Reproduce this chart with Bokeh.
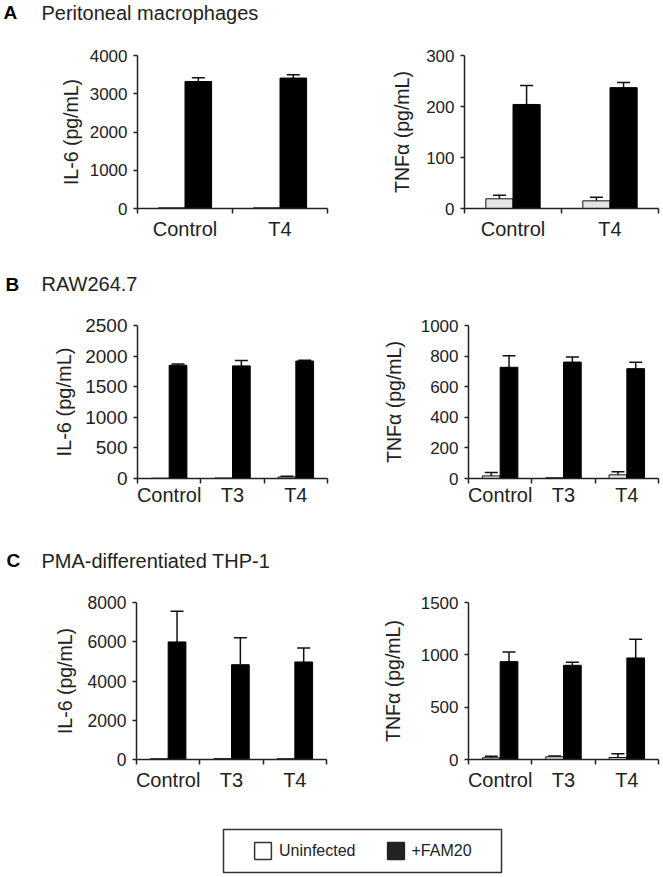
from bokeh.plotting import figure
from bokeh.layouts import column, row
from bokeh.models import (Range1d, FixedTicker, Whisker, TeeHead, ColumnDataSource,
                          Label, Legend, LegendItem)
from bokeh.embed import file_html
from bokeh.resources import INLINE

# ---------------- data ----------------
cats_A = ["Control", "T4"]
cats_BC = ["Control", "T3", "T4"]

A_il6_uninf = [18, 18]
A_il6_uninf_err = [0, 0]
A_il6_fam = [3320, 3410]
A_il6_fam_err = [100, 90]
A_il6_ticks = [0, 1000, 2000, 3000, 4000]

A_tnf_uninf = [19, 15]
A_tnf_uninf_err = [7, 7]
A_tnf_fam = [204, 237]
A_tnf_fam_err = [37, 10]
A_tnf_ticks = [0, 100, 200, 300]

B_il6_uninf = [5, 8, 25]
B_il6_uninf_err = [0, 0, 12]
B_il6_fam = [1850, 1840, 1920]
B_il6_fam_err = [20, 90, 12]
B_il6_ticks = [0, 500, 1000, 1500, 2000, 2500]

B_tnf_uninf = [17, 5, 24]
B_tnf_uninf_err = [22, 0, 20]
B_tnf_fam = [727, 761, 718]
B_tnf_fam_err = [75, 33, 41]
B_tnf_ticks = [0, 200, 400, 600, 800, 1000]

C_il6_uninf = [40, 45, 40]
C_il6_uninf_err = [0, 0, 0]
C_il6_fam = [5990, 4830, 4970]
C_il6_fam_err = [1570, 1380, 715]
C_il6_ticks = [0, 2000, 4000, 6000, 8000]

C_tnf_uninf = [16, 26, 19]
C_tnf_uninf_err = [16, 8, 35]
C_tnf_fam = [935, 900, 970]
C_tnf_fam_err = [93, 28, 180]
C_tnf_ticks = [0, 500, 1000, 1500]

series_names = ["Uninfected", "+FAM20"]
section_letters = ["A", "B", "C"]
section_titles = ["Peritoneal macrophages", "RAW264.7", "PMA-differentiated THP-1"]
il6_label = "IL-6 (pg/mL)"
tnf_label = "TNFα (pg/mL)"

FONT = "Liberation Sans"
TXT = "#222222"
AX = "#222222"
UNINF_FILL = "#e4e4e4"
FAM_FILL = "#000000"
BAR_W = 0.28
LEFT_W = 330
RIGHT_W = 332


def panel(cats, uninf, uninf_err, fam, fam_err, ticks, ylabel, width, height,
          bl, br, bt, bb, tick_fs, lab_fs, lab_standoff, x_standoff):
    n = len(cats)
    p = figure(width=width, height=height, output_backend="svg", toolbar_location=None,
               x_range=Range1d(0, n), y_range=Range1d(ticks[0], ticks[-1]),
               min_border_left=bl, min_border_right=br, min_border_top=bt,
               min_border_bottom=bb, title=None)
    p.outline_line_color = None
    p.grid.visible = False
    p.background_fill_color = "white"

    centers = [i + 0.5 for i in range(n)]
    xu = [c - BAR_W / 2 for c in centers]
    xf = [c + BAR_W / 2 for c in centers]

    p.vbar(x=xu, top=uninf, bottom=0, width=BAR_W, fill_color=UNINF_FILL,
           line_color="#111111", line_width=1)
    p.vbar(x=xf, top=fam, bottom=0, width=BAR_W, fill_color=FAM_FILL,
           line_color="#000000", line_width=1)

    bx, lo, hi = [], [], []
    for xs, vals, errs in ((xu, uninf, uninf_err), (xf, fam, fam_err)):
        for x, v, e in zip(xs, vals, errs):
            if e > 0:
                bx.append(x)
                lo.append(v)
                hi.append(v + e)
    src = ColumnDataSource(dict(base=bx, lower=lo, upper=hi))
    w = Whisker(source=src, base="base", lower="lower", upper="upper",
                line_color="#111111", line_width=1.5, lower_head=None,
                upper_head=TeeHead(size=13, line_color="#111111", line_width=1.5))
    p.add_layout(w)

    xa = p.xaxis[0]
    xa.ticker = FixedTicker(ticks=centers, minor_ticks=list(range(n + 1)))
    xa.major_label_overrides = {c: cat for c, cat in zip(centers, cats)}
    xa.major_tick_line_color = None
    xa.major_tick_out = 0
    xa.major_tick_in = 0
    xa.minor_tick_out = 5
    xa.minor_tick_in = 0
    xa.minor_tick_line_color = AX
    xa.minor_tick_line_width = 1.5
    xa.axis_line_color = AX
    xa.axis_line_width = 1.5
    xa.major_label_text_font = FONT
    xa.major_label_text_font_size = "20px"
    xa.major_label_text_color = TXT
    xa.major_label_standoff = x_standoff

    ya = p.yaxis[0]
    ya.ticker = FixedTicker(ticks=ticks)
    ya.major_tick_out = 4
    ya.major_tick_in = 0
    ya.major_tick_line_color = AX
    ya.major_tick_line_width = 1.5
    ya.minor_tick_line_color = None
    ya.axis_line_color = AX
    ya.axis_line_width = 1.5
    ya.major_label_text_font = FONT
    ya.major_label_text_font_size = tick_fs
    ya.major_label_text_color = TXT
    ya.major_label_standoff = 6
    ya.axis_label = ylabel
    ya.axis_label_text_font = FONT
    ya.axis_label_text_font_size = lab_fs
    ya.axis_label_text_font_style = "normal"
    ya.axis_label_text_color = TXT
    ya.axis_label_standoff = lab_standoff
    return p


def title_fig(letter, title, height, baseline, letter_x):
    W = LEFT_W + RIGHT_W
    t = figure(width=W, height=height, output_backend="svg", toolbar_location=None,
               x_range=Range1d(0, W), y_range=Range1d(0, height),
               x_axis_type=None, y_axis_type=None, min_border=0, title=None)
    t.outline_line_color = None
    t.grid.visible = False
    t.add_layout(Label(x=letter_x, y=baseline, text=letter, text_font=FONT,
                       text_font_size="19px", text_font_style="bold",
                       text_color="#000000", text_baseline="alphabetic"))
    t.add_layout(Label(x=41, y=baseline, text=title, text_font=FONT,
                       text_font_size="20px", text_color=TXT,
                       text_baseline="alphabetic"))
    return row(t)


# Row A
tA = title_fig(section_letters[0], section_titles[0], 32, 20, 3)
pA1 = panel(cats_A, A_il6_uninf, A_il6_uninf_err, A_il6_fam, A_il6_fam_err, A_il6_ticks,
            il6_label, LEFT_W, 226, 137, 3, 23, 50, "17px", "19.5px", 5, 4)
pA2 = panel(cats_A, A_tnf_uninf, A_tnf_uninf_err, A_tnf_fam, A_tnf_fam_err, A_tnf_ticks,
            tnf_label, RIGHT_W, 226, 134, 4, 21, 50, "17px", "19.5px", 10, 4)

# Row B
tB = title_fig(section_letters[1], section_titles[1], 40, 14.5, 5)
pB1 = panel(cats_BC, B_il6_uninf, B_il6_uninf_err, B_il6_fam, B_il6_fam_err, B_il6_ticks,
            il6_label, LEFT_W, 235, 137, 3, 27, 54, "19px", "20px", 7, 0)
pB2 = panel(cats_BC, B_tnf_uninf, B_tnf_uninf_err, B_tnf_fam, B_tnf_fam_err, B_tnf_ticks,
            tnf_label, RIGHT_W, 235, 138, 4, 25, 55, "17px", "19.5px", 13, 0)

# Row C
tC = title_fig(section_letters[2], section_titles[2], 40, 13, 6)
pC1 = panel(cats_BC, C_il6_uninf, C_il6_uninf_err, C_il6_fam, C_il6_fam_err, C_il6_ticks,
            il6_label, LEFT_W, 246, 136, 4, 29, 60, "17.5px", "19.5px", 9, 4)
pC2 = panel(cats_BC, C_tnf_uninf, C_tnf_uninf_err, C_tnf_fam, C_tnf_fam_err, C_tnf_ticks,
            tnf_label, RIGHT_W, 246, 138, 4, 29, 60, "17px", "19.5px", 14, 4)

# Legend
pL = figure(width=LEFT_W + RIGHT_W, height=57, output_backend="svg", toolbar_location=None,
            x_range=Range1d(0, 1), y_range=Range1d(0, 1), x_axis_type=None,
            y_axis_type=None, min_border_left=223, min_border_right=161,
            min_border_top=10, min_border_bottom=4, title=None)
pL.grid.visible = False
pL.outline_line_color = "#333333"
pL.outline_line_width = 1.5
r1 = pL.vbar(x=[0], top=[0], width=0.1, fill_color="#ffffff", line_color="#333333",
             line_width=1.5, visible=False)
r2 = pL.vbar(x=[0], top=[0], width=0.1, fill_color="#222222", line_color="#222222",
             line_width=1.5, visible=False)
leg = Legend(items=[LegendItem(label=series_names[0], renderers=[r1]),
                    LegendItem(label=series_names[1], renderers=[r2])],
             location=(29, 11), orientation="horizontal", border_line_alpha=0,
             background_fill_alpha=0, glyph_width=21, glyph_height=21,
             label_standoff=6, spacing=29, padding=0, margin=0,
             inactive_fill_alpha=0,
             label_text_font=FONT, label_text_font_size="16px", label_text_color=TXT)
pL.add_layout(leg)

layout = column(tA, row(pA1, pA2), tB, row(pB1, pB2), tC, row(pC1, pC2), row(pL))

with open("out.html", "w") as f:
    f.write(file_html(layout, INLINE))
